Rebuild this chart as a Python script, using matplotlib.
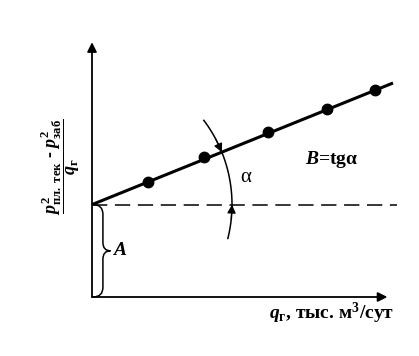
import matplotlib
matplotlib.use('Agg')
import matplotlib.pyplot as plt
from matplotlib.path import Path
import matplotlib.patches as patches
import numpy as np

plt.rcParams['font.family'] = ['Liberation Serif', 'DejaVu Serif']
plt.rcParams['mathtext.fontset'] = 'custom'
plt.rcParams['mathtext.rm'] = 'Liberation Serif:bold'
plt.rcParams['mathtext.it'] = 'Liberation Serif:italic:bold'
plt.rcParams['mathtext.bf'] = 'Liberation Serif:bold'

# data (arbitrary units)
q = [2.0, 4.0, 6.3, 8.4, 10.1]
y = [4.1, 5.0, 5.9, 6.7, 7.4]
A = 3.3          # intercept
B = 0.404        # slope, tg(alpha)
q_line = [0.0, 10.75]
x_end, y_end = 10.55, 9.1    # axis arrows

fig = plt.figure(figsize=(4.19, 3.56), dpi=100)
ax = fig.add_axes([0, 0, 1, 1])
ax.set_xlim(-92 / 28, (419 - 92) / 28)
ax.set_ylim(-(356 - 297) / 28, 297 / 28)
ax.axis('off')

# axes with arrows
ax.annotate('', xy=(x_end, 0), xytext=(0, 0),
            arrowprops=dict(arrowstyle='-|>', color='black', lw=1.3,
                            mutation_scale=14, shrinkA=0, shrinkB=0))
ax.annotate('', xy=(0, y_end), xytext=(0, 0),
            arrowprops=dict(arrowstyle='-|>', color='black', lw=1.3,
                            mutation_scale=14, shrinkA=0, shrinkB=0))

# regression line and points
ax.plot(q_line, [A + B * v for v in q_line], color='black', lw=2.2,
        solid_capstyle='butt')
ax.plot(q, y, 'o', color='black', ms=7.5)

# dashed level of A
ax.plot([0, 10.9], [A, A], color='black', lw=1.1, dashes=(10, 5))

# arc for angle alpha
R = 5.0
th = np.radians(np.linspace(-14, 37, 100))
ax.plot(R * np.cos(th), A + R * np.sin(th), color='black', lw=1.1)
alpha = np.arctan(B)
for a_tip, a_from in [(alpha, alpha + np.radians(6)), (0.0, np.radians(-6))]:
    ax.annotate('', xy=(R * np.cos(a_tip), A + R * np.sin(a_tip)),
                xytext=(R * np.cos(a_from), A + R * np.sin(a_from)),
                arrowprops=dict(arrowstyle='-|>', color='black', lw=0.8,
                                mutation_scale=13, shrinkA=0, shrinkB=0))

# brace for A
x0, x1, xt = 0.04, 0.39, 0.66
ym = A / 2
verts = [(x0, A), (x1, A), (x1, A - 0.35),
         (x1, ym + 0.3),
         (x1, ym), (xt, ym),
         (x1, ym), (x1, ym - 0.3),
         (x1, 0.35),
         (x1, 0.0), (x0, 0.0)]
codes = [Path.MOVETO, Path.CURVE3, Path.CURVE3,
         Path.LINETO,
         Path.CURVE3, Path.CURVE3,
         Path.CURVE3, Path.CURVE3,
         Path.LINETO,
         Path.CURVE3, Path.CURVE3]
ax.add_patch(patches.PathPatch(Path(verts, codes), fill=False, lw=1.1,
                               edgecolor='black'))

# labels
ax.text(0.72, ym, '$A$', fontsize=14, ha='left', va='center')
ax.text(5.5, A + 0.95, 'α', fontsize=15, ha='center', va='center')
ax.text(7.6, 4.9, '$B$=tgα', fontsize=14, fontweight='bold',
        ha='left', va='center')
ax.text(10.8, -0.6,
        r'$q_{\mathrm{г}}$, тыс. м$^{3}$/сут',
        fontsize=14, fontweight='bold', ha='right', va='center')
ax.text(-1.15, 4.65,
        r'$\dfrac{p^{2}_{\mathrm{пл.\ тек}}\mathrm{\ ‐\ }p^{2}_{\mathrm{заб}}}{q_{\mathrm{г}}}$',
        fontsize=13, rotation=90, ha='center', va='center')

fig.savefig('out.png', dpi=100, facecolor='white')
